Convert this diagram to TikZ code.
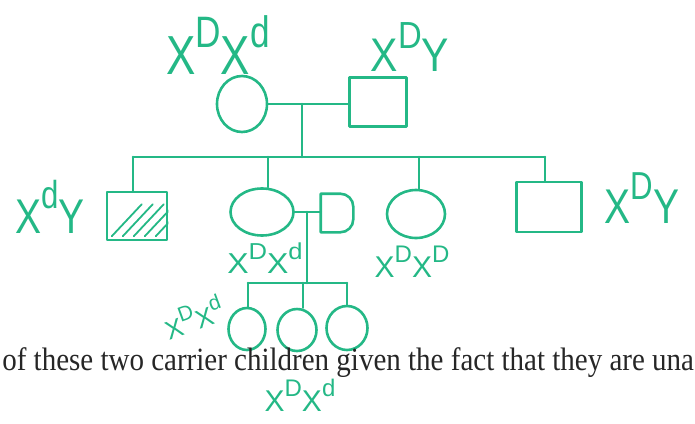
\documentclass[tikz,border=0pt]{standalone}
\usepackage{fontspec}
\setmainfont{Liberation Serif}
\newfontfamily\handfont{Liberation Sans}
\usetikzlibrary{shapes.geometric,calc}
\definecolor{pen}{RGB}{36,184,134}
\newcommand{\gsup}[1]{\raisebox{0.5em}{\scalebox{0.8}{#1}}}
\newcommand{\gt}[2][1.25]{\scalebox{1}[#1]{#2}}
\begin{document}
\begin{tikzpicture}[x=1pt,y=-1pt,
  line width=2.6pt, line cap=round, line join=round,
  fem/.style={draw=pen, ellipse, inner sep=0pt},
  mal/.style={draw=pen, rectangle, inner sep=0pt},
  link/.style={draw=pen},
  geno/.style={text=pen, inner sep=0pt, font=\handfont\fontsize{#1}{#1}\selectfont},
  prose/.style={text=black!85, font=\fontsize{29}{30}\selectfont, inner sep=0pt}
]
\useasboundingbox (0,0) rectangle (695,423);
% generation I
\node[fem, minimum width=50pt, minimum height=56pt] (mom) at (242,104) {};
\node[mal, minimum width=57pt, minimum height=49pt] (dad) at (378,102) {};
\draw[link] (mom.east) -- (dad.west |- mom.east);
\coordinate (m1) at (302,104);
\coordinate (s1) at (302,157);
\draw[link] (m1) -- (s1);
\coordinate (sL) at (133,157);
\coordinate (sR) at (545,157);
\draw[link] (sL) -- (sR);
% generation II
\node[mal, minimum width=60pt, minimum height=48pt] (son) at (137,216) {};
\node[fem, minimum width=63pt, minimum height=47pt] (dau) at (262,212) {};
\node[inner sep=0pt, minimum width=30pt, minimum height=36pt] (sil) at (337,213) {};
\draw[link] (sil.south west) -- (sil.north west) [rounded corners=13pt] -- (sil.north east) -- (sil.south east) [sharp corners] -- cycle;
\node[fem, minimum width=58pt, minimum height=48pt] (dau2) at (416,214) {};
\node[mal, minimum width=65pt, minimum height=50pt] (son2) at (549,207) {};
\draw[link] (sL) -- (sL |- son.north);
\draw[link] (268,157) coordinate (d1) -- (d1 |- dau.north);
\draw[link] (419,157) coordinate (d2) -- (d2 |- dau2.north);
\draw[link] (sR) -- (sR |- son2.north);
% hatching of affected son
\begin{scope}
\clip (son.south west) rectangle (son.north east);
\foreach \k in {0,11,22,33,44}
  \draw[pen, line width=1.8pt] ($(son.south west)+(6+\k,-5)$) -- ++(30,-32);
\end{scope}
% marriage II
\draw[link] (dau.east) -- (sil.west |- dau.east);
\coordinate (m2) at (307,212);
\coordinate (s2) at (307,283);
\draw[link] (m2) -- (s2);
\coordinate (gL) at (248,283);
\coordinate (gR) at (347,283);
\draw[link] (gL) -- (gR);
% generation III
\node[fem, minimum width=37pt, minimum height=42pt] (g1) at (247,329) {};
\node[fem, minimum width=39pt, minimum height=42pt] (g2) at (297,330) {};
\node[fem, minimum width=41pt, minimum height=44pt] (g3) at (347,328) {};
\draw[link] (gL) -- (gL |- g1.north);
\draw[link] (303,283) coordinate (g2t) -- (g2t |- g2.north);
\draw[link] (gR) -- (gR |- g3.north);
% genotype labels
\node[geno=44] (l1) at (218,45) {\gt{X\gsup{D}X\gsup{d}}};
\node[geno=41] (l2) at (410,47) {\gt[1.15]{X\gsup{D}Y}};
\node[geno=39] (l3) at (50,207) {\gt{X\gsup{d}Y}};
\node[geno=39] (l6) at (642,198) {\gt{X\gsup{D}Y}};
\node[geno=32] (l4) at (265,258) {\gt[0.9]{X\gsup{D}X\gsup{d}}};
\node[geno=30] (l5) at (412,262) {\gt[1]{X\gsup{D}X\gsup{D}}};
\node[geno=26, rotate=20] (l7) at (193,317) {X\gsup{D}X\gsup{d}};
\node[geno=30] (l8) at (300,395) {\gt[1]{X\gsup{D}X\gsup{d}}};
% printed text
\node[prose, anchor=base west] (txt) at (1,370) {\scalebox{1}[1.12]{of these two carrier children given the fact that they are una}};
\end{tikzpicture}
\end{document}
